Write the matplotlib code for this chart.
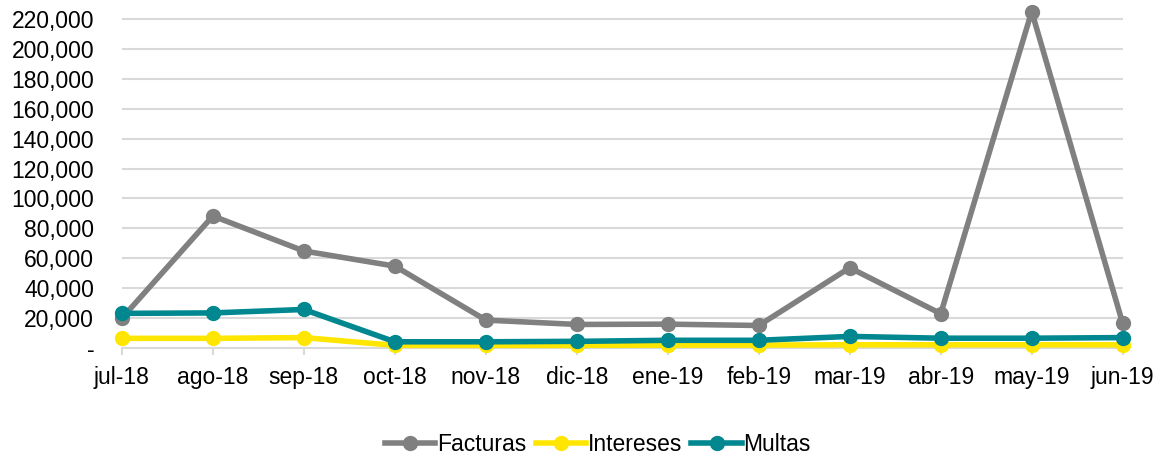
import matplotlib.pyplot as plt
from matplotlib.ticker import FuncFormatter

plt.rcParams['font.family'] = ['Liberation Sans', 'DejaVu Sans']

months = ['jul-18', 'ago-18', 'sep-18', 'oct-18', 'nov-18', 'dic-18',
          'ene-19', 'feb-19', 'mar-19', 'abr-19', 'may-19', 'jun-19']
facturas = [20000, 88300, 64900, 54800, 18700, 15800,
            16000, 15100, 53700, 23000, 225000, 16500]
intereses = [6500, 6500, 7000, 1800, 1800, 1800,
             2000, 2000, 2200, 2200, 2200, 2200]
multas = [23200, 23500, 25800, 4200, 4200, 4500,
          5200, 5200, 7800, 6600, 6600, 7000]
y_ticks = list(range(0, 220001, 20000))

fig = plt.figure(figsize=(11.61, 4.55), dpi=100)
ax = fig.add_axes([0.105, 0.235, 0.862, 0.743])

x = range(len(months))
ax.plot(x, facturas, color='#808080', lw=4, marker='o', ms=10, label='Facturas', zorder=3, clip_on=False)
ax.plot(x, intereses, color='#FFE600', lw=4, marker='o', ms=10, label='Intereses', zorder=4, clip_on=False)
ax.plot(x, multas, color='#00878F', lw=4, marker='o', ms=10, label='Multas', zorder=5, clip_on=False)

ax.set_xlim(0, len(months) - 1)
ax.set_ylim(0, 226000)
ax.set_yticks(y_ticks)
ax.yaxis.set_major_formatter(FuncFormatter(lambda v, p: '-' if v == 0 else '{:,.0f}'.format(v)))
ax.set_xticks(list(x))
ax.set_xticklabels(months)
ax.grid(axis='y', color='#D9D9D9', lw=1.5)
ax.set_axisbelow(True)
for s in ['top', 'right', 'left']:
    ax.spines[s].set_visible(False)
ax.spines['bottom'].set_color('#D9D9D9')
ax.spines['bottom'].set_linewidth(1.5)
ax.tick_params(axis='y', length=0, labelsize=16.5, pad=20)
ax.tick_params(axis='x', length=5, color='#D9D9D9', width=1.5, labelsize=16.5, pad=8)

fig.legend(loc='center', bbox_to_anchor=(0.515, 0.024), ncol=3, frameon=False,
           fontsize=16.5, handlelength=2.2, handletextpad=0.08, columnspacing=0.4)

plt.savefig('out.png')
